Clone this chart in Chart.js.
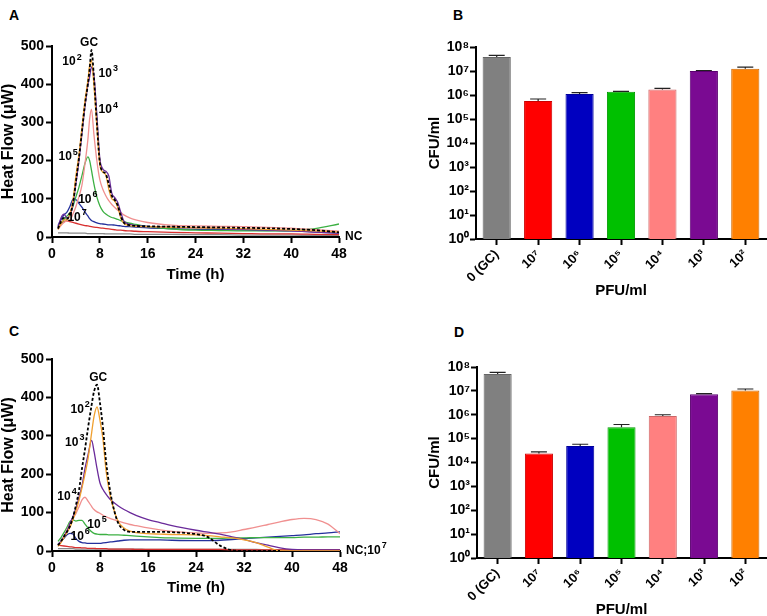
<!DOCTYPE html>
<html lang="en">
<head>
<meta charset="UTF-8">
<title>Heat flow and CFU counts</title>
<script src="https://cdn.jsdelivr.net/npm/chart.js"></script>
<style>
  html, body { margin: 0; padding: 0; background: #fff; overflow: hidden; }
  body { width: 767px; height: 616px; position: relative; font-family: 'Liberation Sans', Arial, sans-serif; }
  .panel { position: absolute; }
  .letter { position: absolute; font-weight: bold; font-size: 14px; line-height: 14px; }
</style>
</head>
<body>
  <div class="letter" style="left:9px;top:8px">A</div>
  <div class="letter" style="left:453px;top:8px">B</div>
  <div class="letter" style="left:9px;top:324px">C</div>
  <div class="letter" style="left:454px;top:325px">D</div>

  <div class="panel" style="left:0;top:0;width:380px;height:300px"><canvas id="chartA"></canvas></div>
  <div class="panel" style="left:380px;top:0;width:387px;height:300px"><canvas id="chartB"></canvas></div>
  <div class="panel" style="left:0;top:300px;width:400px;height:316px"><canvas id="chartC"></canvas></div>
  <div class="panel" style="left:380px;top:300px;width:387px;height:330px"><canvas id="chartD"></canvas></div>

<script>
// ---- data: heat flow curves (µW) ----
const timeA = [1, 1.5, 2, 2.5, 3, 3.5, 4, 4.5, 5, 5.5, 6, 6.3, 6.6, 7, 7.5, 8, 8.5, 9, 9.5, 10, 10.5, 11, 11.5, 12, 13, 14, 16, 20, 24, 28, 32, 36, 40, 44, 48];
const heatA_GC  = [22, 40, 50, 48, 58, 88, 145, 205, 275, 345, 400, 440, 490, 420, 300, 195, 172, 165, 138, 108, 97, 82, 55, 38, 31, 29, 28, 27, 26, 25, 24, 23, 21, 18, 12];
const heatA_1e2 = [20, 35, 45, 45, 60, 95, 160, 215, 285, 355, 410, 450, 462, 400, 290, 190, 170, 162, 125, 100, 94, 78, 50, 36, 30, 28, 27, 25, 24, 23, 22, 20, 18, 16, 13];
const heatA_1e3 = [25, 50, 60, 50, 58, 85, 140, 200, 270, 340, 398, 420, 445, 425, 320, 205, 178, 172, 160, 115, 103, 90, 65, 42, 33, 30, 28, 26, 24, 22, 20, 18, 16, 13, 10];
const heatA_1e4 = [20, 30, 38, 42, 44, 60, 80, 105, 135, 190, 255, 310, 335, 270, 200, 150, 125, 108, 95, 85, 77, 70, 64, 58, 50, 45, 38, 31, 29, 28, 27, 25, 23, 19, 15];
const heatA_1e5 = [25, 35, 45, 55, 63, 80, 105, 130, 160, 192, 210, 200, 175, 140, 105, 82, 68, 60, 55, 51, 49, 46, 43, 40, 36, 33, 27, 21, 18, 17, 16, 16, 17, 22, 34];
const heatA_1e6 = [30, 45, 58, 65, 80, 98, 98, 88, 78, 66, 55, 48, 43, 40, 37, 35, 34, 33, 32, 32, 31, 30, 29, 28, 27, 26, 24, 22, 20, 19, 18, 17, 16, 13, 10];
const heatA_1e7 = [28, 35, 40, 42, 40, 38, 36, 34, 32, 30, 29, 28, 27, 26, 25, 24, 23, 22, 21, 20, 19, 18, 18, 17, 16, 15, 14, 12, 11, 10, 9, 8, 8, 7, 6];
const heatA_NC  = [11, 11, 11, 11, 10, 10, 10, 10, 10, 10, 9, 9, 9, 9, 9, 9, 9, 8, 8, 8, 8, 8, 8, 8, 8, 7, 7, 7, 6, 6, 5, 5, 5, 4, 4];

const timeC = [1, 1.5, 2, 2.5, 3, 3.5, 4, 4.5, 5, 5.5, 6, 6.6, 7, 7.5, 8, 8.5, 9, 9.5, 10, 11, 12, 13, 14, 16, 18, 20, 24, 26, 28, 30, 32, 34, 36, 38, 40, 42, 44, 46, 48];
const heatC_GC  = [15, 25, 38, 50, 65, 88, 120, 158, 215, 265, 320, 380, 415, 433, 385, 320, 235, 175, 130, 74, 55, 50, 50, 50, 50, 49, 44, 36, 14, 2, 0, 0, 0, 0, null, null, null, null, null];
const heatC_1e2 = [12, 22, 35, 48, 62, 82, 105, 132, 165, 200, 240, 307, 350, 375, 340, 290, 210, 160, 125, 78, 60, 52, 48, 45, 44, 43, 42, 40, 37, 34, 29, 22, 10, 0, 0, 0, 0, 0, 0];
const heatC_1e3 = [15, 25, 38, 52, 72, 90, 112, 140, 170, 215, 250, 288, 260, 215, 177, 160, 148, 138, 130, 118, 108, 100, 93, 82, 74, 66, 54, 49, 44, 37, 30, 22, 15, 8, 4, 3, 3, 3, 3];
const heatC_1e4 = [15, 25, 38, 55, 72, 85, 98, 115, 133, 140, 130, 116, 108, 102, 98, 93, 89, 86, 83, 78, 73, 69, 66, 60, 55, 51, 47, 46, 47, 50, 56, 62, 69, 76, 82, 85, 82, 70, 45];
const heatC_1e5 = [25, 35, 48, 62, 77, 81, 78, 80, 80, 70, 60, 50, 46, 44, 43, 43, 43, 42, 42, 42, 41, 40, 39, 37, 35, 34, 33, 33, 33, 34, 34, 35, 35, 35, 35, 36, 36, 37, 37];
const heatC_1e6 = [18, 25, 33, 42, 46, 44, 32, 25, 22, 21, 20, 20, 20, 20, 20, 21, 22, 23, 24, 26, 28, 29, 29, 29, 29, 28, 27, 27, 28, 30, 32, 34, 36, 38, 40, 42, 45, 47, 50];
const heatC_1e7 = [15, 14, 13, 12, 11, 10, 9, 9, 8, 8, 7, 7, 7, 6, 6, 6, 6, 5, 5, 5, 5, 5, 4, 4, 4, 4, 4, 4, 4, 3, 3, 3, 3, 3, 3, 3, 3, 3, 3];
const heatC_NC  = [6, 6, 6, 6, 6, 6, 5, 5, 5, 5, 5, 5, 5, 5, 5, 5, 5, 5, 5, 5, 5, 5, 5, 4, 4, 4, 4, 4, 4, 4, 4, 4, 3, 3, 3, 3, 3, 3, 3];

// ---- data: CFU/ml bars ----
const pfuLabels = ['0 (GC)', '10⁷', '10⁶', '10⁵', '10⁴', '10³', '10²'];
const cfuB      = [3.8e7, 5.6e5, 1.1e6, 1.37e6, 1.7e6, 1.0e7, 1.25e7];
const cfuB_hi   = [4.5e7, 6.8e5, 1.25e6, 1.42e6, 1.9e6, 1.05e7, 1.45e7];
const cfuD      = [5.1e7, 2.4e4, 4.9e4, 3.0e5, 8.9e5, 7.2e6, 1.03e7];
const cfuD_hi   = [6.0e7, 2.8e4, 5.8e4, 3.9e5, 1.0e6, 7.7e6, 1.2e7];
const logTicks  = [1, 1e1, 1e2, 1e3, 1e4, 1e5, 1e6, 1e7, 1e8];
const logTickLabels = ['10⁰', '10¹', '10²', '10³', '10⁴', '10⁵', '10⁶', '10⁷', '10⁸'];

// curve labels, anchored in data units (sup = superscript part)
const labelsA = [
  { text: 'GC', t: 6.2, v: 508 }, { text: '10', sup: '2', t: 3.35, v: 458 }, { text: '10', sup: '3', t: 9.4, v: 427 },
  { text: '10', sup: '4', t: 9.4, v: 332 }, { text: '10', sup: '5', t: 2.7, v: 209 }, { text: '10', sup: '6', t: 6.0, v: 97 },
  { text: '10', sup: '7', t: 4.2, v: 50 }, { text: 'NC', t: 49, v: 0, align: 'left' }
];
const labelsC = [
  { text: 'GC', t: 7.7, v: 452 }, { text: '10', sup: '2', t: 4.7, v: 368 }, { text: '10', sup: '3', t: 3.8, v: 282 },
  { text: '10', sup: '4', t: 2.5, v: 141 }, { text: '10', sup: '5', t: 7.5, v: 68 }, { text: '10', sup: '6', t: 4.7, v: 37 },
  { text: 'NC;10', sup: '7', t: 49, v: 0, align: 'left' }
];

const FONT = "'Liberation Sans', Arial, sans-serif";
Chart.defaults.font.family = FONT;
Chart.defaults.color = '#000';

const lineColors = { GC: '#000000', e2: '#f0a030', e3: '#6a2a9a', e4: '#f09090', e5: '#3cb043', e6: '#24309c', e7: '#d83030', NC: '#888888' };
const barColors  = ['#808080', '#ff0000', '#0000c0', '#00c000', '#ff8080', '#7a0a92', '#ff8000'];
const barBorders = ['#666666', '#cc0000', '#00009a', '#009a00', '#cc6666', '#5a0070', '#cc6600'];

const curveLabels = {
  id: 'curveLabels',
  afterDatasetsDraw(chart, args, opts) {
    if (!opts.items) return;
    const { ctx, scales: { x, y } } = chart;
    const base = 'bold 12px ' + FONT, small = 'bold 9px ' + FONT;
    ctx.save();
    ctx.fillStyle = '#000';
    ctx.textBaseline = 'middle';
    ctx.textAlign = 'left';
    opts.items.forEach(it => {
      ctx.font = base;
      const w1 = ctx.measureText(it.text).width;
      ctx.font = small;
      const w2 = it.sup ? ctx.measureText(it.sup).width + 1 : 0;
      const px = x.getPixelForValue(it.t), py = y.getPixelForValue(it.v);
      const x0 = it.align === 'left' ? px : px - (w1 + w2) / 2;
      ctx.font = base;
      ctx.fillText(it.text, x0, py);
      if (it.sup) {
        ctx.font = small;
        ctx.fillText(it.sup, x0 + w1 + 1, py - 5);
      }
    });
    ctx.restore();
  }
};

const errorBars = {
  id: 'errorBars',
  afterDatasetsDraw(chart, args, opts) {
    if (!opts.upper) return;
    const { ctx, scales: { y } } = chart;
    const meta = chart.getDatasetMeta(0);
    ctx.save();
    ctx.strokeStyle = '#222';
    ctx.lineWidth = 1.2;
    meta.data.forEach((bar, i) => {
      const top = y.getPixelForValue(opts.upper[i]);
      ctx.beginPath();
      ctx.moveTo(bar.x, bar.y);
      ctx.lineTo(bar.x, top);
      ctx.moveTo(bar.x - 8, top);
      ctx.lineTo(bar.x + 8, top);
      ctx.stroke();
    });
    ctx.restore();
  }
};
Chart.register(curveLabels, errorBars);

const axisGrid = { drawOnChartArea: false, tickLength: 6, tickWidth: 2, tickColor: '#000' };
const axisBorder = { color: '#000', width: 2 };

function lineSet(times, values, color, dashed) {
  return {
    data: values.map((v, i) => ({ x: times[i], y: v })),
    borderColor: color,
    borderWidth: dashed ? 1.8 : 1.3,
    borderDash: dashed ? [3, 2] : [],
    pointRadius: 0,
    cubicInterpolationMode: 'monotone',
    fill: false
  };
}

function heatChart(id, times, series, labels, box) {
  return new Chart(document.getElementById(id), {
    type: 'line',
    data: {
      datasets: [
        lineSet(times, series[0], lineColors.GC, true),
        lineSet(times, series[1], lineColors.e2),
        lineSet(times, series[2], lineColors.e3),
        lineSet(times, series[3], lineColors.e4),
        lineSet(times, series[4], lineColors.e5),
        lineSet(times, series[5], lineColors.e6),
        lineSet(times, series[6], lineColors.e7),
        lineSet(times, series[7], lineColors.NC)
      ]
    },
    options: {
      responsive: true,
      maintainAspectRatio: false,
      animation: false,
      layout: { padding: { left: 0, top: box.top, right: box.right, bottom: 0 } },
      plugins: { legend: { display: false }, tooltip: { enabled: false }, curveLabels: { items: labels } },
      scales: {
        x: {
          type: 'linear', min: 0, max: 48,
          ticks: { stepSize: 8, padding: 3, font: { size: 14, weight: 'bold' } },
          grid: axisGrid, border: axisBorder,
          title: { display: true, text: 'Time (h)', font: { size: 15, weight: 'bold' }, padding: { top: 0, bottom: box.titleGap } },
          afterFit: s => { s.height = box.xh; }
        },
        y: {
          min: 0, max: 500,
          ticks: { stepSize: 100, padding: 2, font: { size: 14, weight: 'bold' } },
          grid: axisGrid, border: axisBorder,
          title: { display: true, text: 'Heat Flow (μW)', font: { size: 16, weight: 'bold', lineHeight: 1.1 }, padding: 0 },
          afterFit: s => { s.width = 52; }
        }
      }
    }
  });
}

function cfuChart(id, values, upper, box) {
  return new Chart(document.getElementById(id), {
    type: 'bar',
    data: {
      labels: pfuLabels,
      datasets: [{
        data: values,
        backgroundColor: barColors,
        borderColor: barBorders,
        borderWidth: 1,
        barPercentage: 0.68,
        categoryPercentage: 1
      }]
    },
    options: {
      responsive: true,
      maintainAspectRatio: false,
      animation: false,
      layout: { padding: { left: 42, top: box.top, right: 1, bottom: 0 } },
      plugins: { legend: { display: false }, tooltip: { enabled: false }, errorBars: { upper } },
      scales: {
        x: {
          ticks: { minRotation: 45, maxRotation: 45, autoSkip: false, padding: 2, font: { size: 13, weight: 'bold' } },
          grid: Object.assign({ offset: false }, axisGrid), border: axisBorder,
          title: { display: true, text: 'PFU/ml', font: { size: 15, weight: 'bold' }, padding: { top: 0, bottom: box.titleGap } },
          afterFit: s => { s.height = box.xh; }
        },
        y: {
          type: 'logarithmic', min: 1, max: 1e8,
          afterBuildTicks: s => { s.ticks = logTicks.map(v => ({ value: v })); },
          ticks: { autoSkip: false, padding: 1, font: { size: 14, weight: 'bold' }, callback: (v, i) => logTickLabels[i] },
          grid: axisGrid, border: axisBorder,
          title: { display: true, text: 'CFU/ml', font: { size: 15, weight: 'bold' }, padding: { top: 4, bottom: 0 } },
          afterFit: s => { s.width = box.yw; }
        }
      }
    }
  });
}

heatChart('chartA', timeA, [heatA_GC, heatA_1e2, heatA_1e3, heatA_1e4, heatA_1e5, heatA_1e6, heatA_1e7, heatA_NC], labelsA,
  { top: 46, right: 41, xh: 63, titleGap: 16 });
heatChart('chartC', timeC, [heatC_GC, heatC_1e2, heatC_1e3, heatC_1e4, heatC_1e5, heatC_1e6, heatC_1e7, heatC_NC], labelsC,
  { top: 59, right: 60, xh: 65, titleGap: 19 });
cfuChart('chartB', cfuB, cfuB_hi, { top: 47, yw: 54, xh: 61, titleGap: 0 });
cfuChart('chartD', cfuD, cfuD_hi, { top: 67, yw: 55, xh: 72, titleGap: 11 });
</script>
</body>
</html>
